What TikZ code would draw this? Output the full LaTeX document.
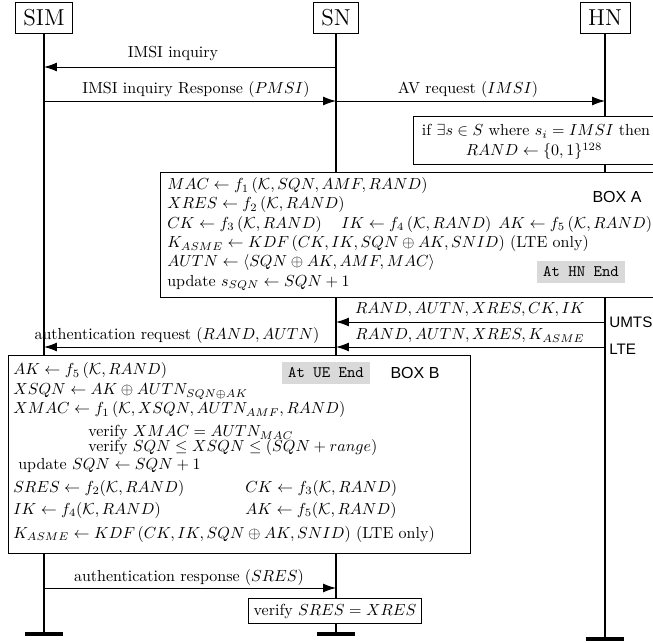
\documentclass[tikz,border=0pt]{standalone}
\usepackage{amsmath,amssymb}
\usepackage{fontspec}
\newfontfamily\helv{Liberation Sans}
\usetikzlibrary{arrows.meta,fit}
\begin{document}
\begin{tikzpicture}[x=0.625pt,y=-0.625pt,
  inst/.style={draw, line width=0.5pt, font=\Large, inner xsep=5pt, minimum height=19.5pt, anchor=north, fill=white},
  life/.style={line width=1.1pt},
  endbar/.style={line width=2pt},
  msg/.style={line width=0.6pt, -{Latex[length=8pt,width=5.5pt]}},
  lbl/.style={anchor=base, inner sep=0pt},
  txt/.style={anchor=base west, inner sep=0pt},
  boxx/.style={draw, line width=0.6pt, inner sep=0pt, fill=white},
  tag/.style={font=\helv, inner sep=0pt},
  gbox/.style={fill=black!15, font=\ttfamily, inner xsep=4pt, inner ysep=3.5pt}
]
\path[use as bounding box, clip] (0,0) rectangle (653,643);

% instances
\node[inst] (sim) at (44,2) {SIM};
\node[inst] (sn) at (336,2) {SN};
\node[inst] (hn) at (605,2) {HN};

\coordinate (simE) at (44,634);
\coordinate (snE) at (336,634);
\coordinate (hnE) at (605,639);
\draw[life] (sim.south) -- (simE);
\draw[life] (sn.south) -- (snE);
\draw[life] (hn.south) -- (hnE);
\draw[endbar] ([xshift=-12pt]simE) -- ([xshift=12pt]simE);
\draw[endbar] ([xshift=-12pt]snE) -- ([xshift=12pt]snE);
\draw[endbar] ([xshift=-12pt]hnE) -- ([xshift=12pt]hnE);

% messages
\coordinate (m1a) at (336,67); \coordinate (m1b) at (44,67);
\draw[msg] (m1a) -- (m1b);
\node[lbl] (l1) at (173,58) {IMSI inquiry};

\coordinate (m2a) at (44,101); \coordinate (m2b) at (336,101);
\draw[msg] (m2a) -- (m2b);
\node[lbl] (l2) at (196,94) {IMSI inquiry Response ($PMSI$)};

\coordinate (m3a) at (336,101); \coordinate (m3b) at (605,101);
\draw[msg] (m3a) -- (m3b);
\node[lbl] (l3) at (468,94) {AV request ($IMSI$)};

% HN box
\node[boxx, fit={(413,116) (670,164)}] (hnbox) {};
\node[lbl] (h1) at (536,136) {if $\exists s \in S$ where $s_i = IMSI$ then};
\node[lbl] (h2) at (534,156) {$RAND \leftarrow \{0,1\}^{128}$};

% Box A
\node[boxx, fit={(160,172) (680,297)}] (boxA) {};
\node[txt] (a1) at (167,190) {$MAC \leftarrow f_1\,(\mathcal{K}, SQN, AMF, RAND)$};
\node[txt] (a2) at (167,209) {$XRES \leftarrow f_2\,(\mathcal{K}, RAND)$};
\node[txt] (a3) at (167,228.5) {$CK \leftarrow f_3\,(\mathcal{K}, RAND)$};
\node[txt] (a3b) at (341,228.5) {$IK \leftarrow f_4\,(\mathcal{K}, RAND)$};
\node[txt] (a3c) at (498,228.5) {$AK \leftarrow f_5\,(\mathcal{K}, RAND)$};
\node[txt] (a4) at (167,248) {$K_{ASME} \leftarrow KDF\,(CK, IK, SQN \oplus AK, SNID)$ (LTE only)};
\node[txt] (a5) at (167,267) {$AUTN \leftarrow \langle SQN \oplus AK, AMF, MAC\rangle$};
\node[txt] (a6) at (167,286.5) {update $s_{SQN} \leftarrow SQN + 1$};
\node[tag] (boxAtag) at (617,197) {BOX A};
\node[gbox] (hnend) at (581,272) {At HN End};

% UMTS / LTE
\coordinate (u1a) at (605,322); \coordinate (u1b) at (336,322);
\draw[msg] (u1a) -- (u1b);
\node[lbl] (lu) at (470,314) {$RAND, AUTN, XRES, CK, IK$};
\node[tag, anchor=west] (umts) at (609,322) {\fontsize{9.5}{11}\selectfont UMTS};

\coordinate (u2a) at (605,347); \coordinate (u2b) at (336,347);
\draw[msg] (u2a) -- (u2b);
\node[lbl] (ll) at (470,340) {$RAND, AUTN, XRES, K_{ASME}$};
\node[tag, anchor=west] (lte) at (609,349) {\fontsize{9.5}{11}\selectfont LTE};

\coordinate (r1a) at (336,347); \coordinate (r1b) at (44,347);
\draw[msg] (r1a) -- (r1b);
\node[lbl] (lr) at (177,340) {authentication request ($RAND, AUTN$)};

% Box B
\node[boxx, fit={(8,355) (470,553)}] (boxB) {};
\node[txt] (b1) at (13,375) {$AK \leftarrow f_5\,(\mathcal{K}, RAND)$};
\node[txt] (b2) at (13,395) {$XSQN \leftarrow AK \oplus AUTN_{SQN \oplus AK}$};
\node[txt] (b3) at (13,414) {$XMAC \leftarrow f_1\,(\mathcal{K}, XSQN, AUTN_{AMF}, RAND)$};
\node[txt] (b4) at (88,437) {verify $XMAC = AUTN_{MAC}$};
\node[txt] (b5) at (88,452) {verify $SQN \leq XSQN \leq (SQN + range)$};
\node[txt] (b6) at (18,470) {update $SQN \leftarrow SQN + 1$};
\node[txt] (b7a) at (13,492) {$SRES \leftarrow f_2(\mathcal{K}, RAND)$};
\node[txt] (b7b) at (245,492) {$CK \leftarrow f_3(\mathcal{K}, RAND)$};
\node[txt] (b8a) at (13,514) {$IK \leftarrow f_4(\mathcal{K}, RAND)$};
\node[txt] (b8b) at (245,514) {$AK \leftarrow f_5(\mathcal{K}, RAND)$};
\node[txt] (b9) at (13,538) {$K_{ASME} \leftarrow KDF\,(CK, IK, SQN \oplus AK, SNID)$ (LTE only)};
\node[gbox] (ueend) at (326,373) {At UE End};
\node[tag] (boxBtag) at (415,373) {BOX B};

% authentication response
\coordinate (s1a) at (44,588); \coordinate (s1b) at (336,588);
\draw[msg] (s1a) -- (s1b);
\node[lbl] (ls) at (189,581) {authentication response ($SRES$)};

\node[boxx, anchor=center, inner xsep=3pt, minimum height=16pt] (ver) at (335,611) {verify $SRES = XRES$};
\end{tikzpicture}
\end{document}
